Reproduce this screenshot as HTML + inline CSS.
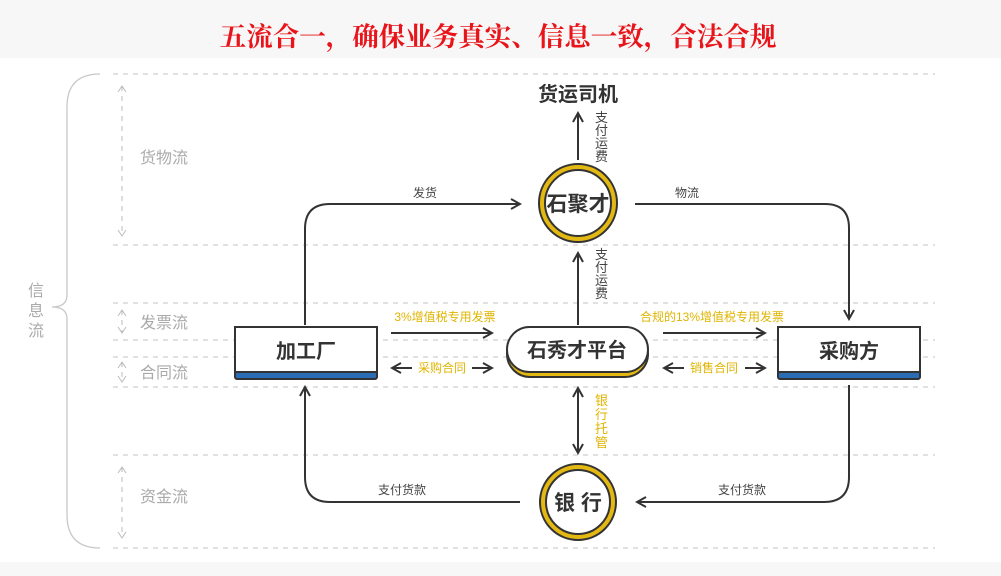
<!DOCTYPE html>
<html><head><meta charset="utf-8"><style>
html,body{margin:0;padding:0;background:#fff;}
body{width:1001px;height:576px;overflow:hidden;position:relative;font-family:"Liberation Sans","Noto Sans CJK SC",sans-serif;}
</style></head><body>
<svg width="1001" height="576" viewBox="0 0 1001 576" xmlns="http://www.w3.org/2000/svg" style="position:absolute;left:0;top:0">
<defs>
<marker id="ah" viewBox="0 0 12 12" refX="10" refY="6" markerWidth="12" markerHeight="12" markerUnits="userSpaceOnUse" orient="auto-start-reverse">
<path d="M1,1 L10,6 L1,11" fill="none" stroke="#333" stroke-width="2"/></marker>
<marker id="gh" viewBox="0 0 10 10" refX="8" refY="5" markerWidth="10" markerHeight="10" markerUnits="userSpaceOnUse" orient="auto-start-reverse">
<path d="M2,1 L8,5 L2,9" fill="none" stroke="#bbb" stroke-width="1"/></marker>
</defs>
<rect x="0" y="0" width="1001" height="58" fill="#f7f7f7"/>
<rect x="0" y="562" width="1001" height="14" fill="#f7f7f7"/>
<text x="498" y="46" text-anchor="middle" font-family="'Noto Serif CJK SC',serif" font-weight="bold" font-size="26.5" fill="#e8141a">五流合一，确保业务真实、信息一致，合法合规</text>

<g stroke="#cfcfcf" stroke-width="1.2" stroke-dasharray="5,5" fill="none">
<line x1="113" y1="74" x2="935" y2="74"/>
<line x1="113" y1="245" x2="935" y2="245"/>
<line x1="113" y1="303" x2="935" y2="303"/>
<line x1="113" y1="340" x2="935" y2="340"/>
<line x1="113" y1="357" x2="935" y2="357"/>
<line x1="113" y1="387" x2="935" y2="387"/>
<line x1="113" y1="455" x2="935" y2="455"/>
<line x1="113" y1="548" x2="935" y2="548"/>
</g>
<g stroke="#bbb" stroke-width="1" stroke-dasharray="5,5" fill="none" marker-start="url(#gh)" marker-end="url(#gh)">
<line x1="122" y1="86" x2="122" y2="236"/>
<line x1="122" y1="310" x2="122" y2="333"/>
<line x1="122" y1="362" x2="122" y2="382"/>
<line x1="122" y1="467" x2="122" y2="538"/>
</g>
<path d="M100,74 Q67,74 67,107 L67,295 Q67,307 52,307 Q67,307 67,319 L67,515 Q67,548 100,548" fill="none" stroke="#c8c8c8" stroke-width="1.3"/>
<g font-size="16" fill="#aaa">
<text x="140" y="163">货物流</text>
<text x="140" y="328">发票流</text>
<text x="140" y="378">合同流</text>
<text x="140" y="502">资金流</text>
<text x="28" y="296">信</text><text x="28" y="316">息</text><text x="28" y="336">流</text>
</g>

<g fill="none" stroke="#333" stroke-width="2">
<path d="M305,325 L305,229 Q305,204 330,204 L520,204" marker-end="url(#ah)"/>
<path d="M635,204 L825,204 Q849,204 849,228 L849,319" marker-end="url(#ah)"/>
<path d="M578,160 L578,113" marker-end="url(#ah)"/>
<path d="M578,325 L578,253" marker-end="url(#ah)"/>
<path d="M578,388 L578,453" marker-start="url(#ah)" marker-end="url(#ah)"/>
<path d="M391,333 L492,333" marker-end="url(#ah)"/>
<path d="M392,368 L412,368" marker-start="url(#ah)"/>
<path d="M472,368 L492,368" marker-end="url(#ah)"/>
<path d="M663,333 L765,333" marker-end="url(#ah)"/>
<path d="M664,368 L684,368" marker-start="url(#ah)"/>
<path d="M745,368 L765,368" marker-end="url(#ah)"/>
<path d="M520,502 L330,502 Q305,502 305,477 L305,387" marker-end="url(#ah)"/>
<path d="M849,385 L849,477 Q849,502 824,502 L637,502" marker-end="url(#ah)"/>
</g>
<g font-size="12" fill="#444">
<text x="425" y="197" text-anchor="middle">发货</text>
<text x="687" y="197" text-anchor="middle">物流</text>
<text x="402" y="494" text-anchor="middle">支付货款</text>
<text x="742" y="494" text-anchor="middle">支付货款</text>
</g>
<g font-size="13" fill="#444">
<text x="595" y="122">支</text><text x="595" y="135">付</text><text x="595" y="148">运</text><text x="595" y="161">费</text>
<text x="595" y="259">支</text><text x="595" y="272">付</text><text x="595" y="285">运</text><text x="595" y="298">费</text>
</g>
<g font-size="12" fill="#e0b400">
<text x="445" y="321" text-anchor="middle">3%增值税专用发票</text>
<text x="712" y="321" text-anchor="middle">合规的13%增值税专用发票</text>
<text x="442" y="372" text-anchor="middle">采购合同</text>
<text x="714" y="372" text-anchor="middle">销售合同</text>
</g>
<g font-size="13" fill="#e0b400">
<text x="595" y="405">银</text><text x="595" y="419">行</text><text x="595" y="433">托</text><text x="595" y="447">管</text>
</g>

<text x="578" y="101" text-anchor="middle" font-size="20" font-weight="bold" fill="#333">货运司机</text>

<circle cx="578" cy="203" r="39" fill="#e3b813" stroke="#333" stroke-width="2"/>
<circle cx="578" cy="203" r="33" fill="#fff" stroke="#333" stroke-width="2"/>
<text x="578" y="211" text-anchor="middle" font-size="21" font-weight="bold" fill="#333">石聚才</text>
<circle cx="578" cy="502" r="38" fill="#e3b813" stroke="#333" stroke-width="2"/>
<circle cx="578" cy="502" r="32" fill="#fff" stroke="#333" stroke-width="2"/>
<text x="578" y="510" text-anchor="middle" font-size="21" font-weight="bold" fill="#333">银 行</text>

<rect x="507" y="331" width="141" height="46" rx="23" fill="#e3b813" stroke="#333" stroke-width="2"/>
<rect x="507" y="327" width="141" height="45" rx="22.5" fill="#fff" stroke="#333" stroke-width="2"/>
<text x="577" y="357" text-anchor="middle" font-size="20" font-weight="bold" fill="#333">石秀才平台</text>

<rect x="235" y="327" width="142" height="52" rx="2" fill="#2a6db5" stroke="#333" stroke-width="2"/>
<rect x="235" y="327" width="142" height="45" fill="#fff" stroke="#333" stroke-width="2"/>
<text x="306" y="358" text-anchor="middle" font-size="20" font-weight="bold" fill="#333">加工厂</text>
<rect x="778" y="327" width="142" height="52" rx="2" fill="#2a6db5" stroke="#333" stroke-width="2"/>
<rect x="778" y="327" width="142" height="45" fill="#fff" stroke="#333" stroke-width="2"/>
<text x="849" y="358" text-anchor="middle" font-size="20" font-weight="bold" fill="#333">采购方</text>
</svg>
</body></html>
